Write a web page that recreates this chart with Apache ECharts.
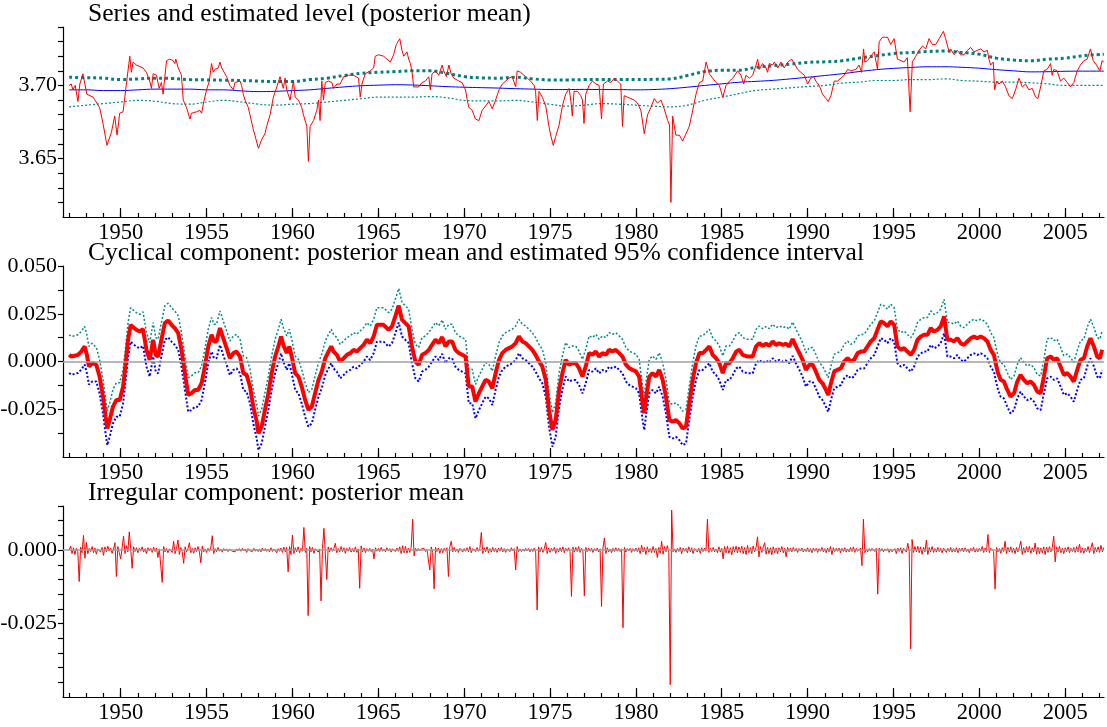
<!DOCTYPE html>
<html>
<head>
<meta charset="utf-8">
<title>Series, cycle and irregular components</title>
<script src="https://cdn.jsdelivr.net/npm/echarts@6/dist/echarts.min.js"></script>
<style>
  html, body { margin: 0; padding: 0; background: #fff; }
  #chart { width: 1107px; height: 727px; }
</style>
</head>
<body>
<div id="chart"></div>
<script>
// ---- axis ticks / labels ----
const yearTicks = [1947, 1948, 1949, 1950, 1951, 1952, 1953, 1954, 1955, 1956, 1957, 1958, 1959, 1960,
  1961, 1962, 1963, 1964, 1965, 1966, 1967, 1968, 1969, 1970, 1971, 1972, 1973, 1974, 1975, 1976,
  1977, 1978, 1979, 1980, 1981, 1982, 1983, 1984, 1985, 1986, 1987, 1988, 1989, 1990, 1991, 1992,
  1993, 1994, 1995, 1996, 1997, 1998, 1999, 2000, 2001, 2002, 2003, 2004, 2005, 2006, 2007];
const labelYears = [1950, 1955, 1960, 1965, 1970, 1975, 1980, 1985, 1990, 1995, 2000, 2005];
const levelTicks = [3.62, 3.63, 3.64, 3.65, 3.66, 3.67, 3.68, 3.69, 3.70, 3.71, 3.72, 3.73, 3.74];
const levelLabels = [3.65, 3.70];
const cycleTicks = [-0.0375, -0.025, -0.0125, 0, 0.0125, 0.025, 0.0375, 0.05];
const cycleLabels = [-0.025, 0, 0.025, 0.05];
const irrTicks = [-0.045, -0.04, -0.035, -0.03, -0.025, -0.02, -0.015, -0.01, -0.005, 0, 0.005, 0.01, 0.015];
const irrLabels = [-0.025, 0];

// ---- panel 1: observed series [year, value] ----
const observed = [
  [1947.00,3.700],[1947.12,3.701],[1947.22,3.697],[1947.35,3.700],[1947.51,3.689],[1947.62,3.701],[1947.80,3.708],
  [1948.03,3.694],[1948.39,3.692],[1948.77,3.685],[1948.97,3.674],[1949.20,3.659],[1949.46,3.668],[1949.65,3.679],
  [1949.79,3.666],[1949.94,3.681],[1950.14,3.682],[1950.33,3.701],[1950.53,3.720],[1950.62,3.709],[1950.72,3.716],
  [1950.91,3.714],[1951.30,3.712],[1951.50,3.709],[1951.69,3.703],[1951.79,3.698],[1951.89,3.708],[1951.98,3.709],
  [1952.08,3.707],[1952.24,3.698],[1952.37,3.702],[1952.47,3.694],[1952.57,3.706],[1952.67,3.717],[1952.86,3.718],
  [1953.05,3.717],[1953.15,3.715],[1953.21,3.718],[1953.35,3.712],[1953.54,3.707],[1953.64,3.690],[1953.83,3.685],
  [1954.03,3.677],[1954.12,3.681],[1954.42,3.682],[1954.61,3.683],[1954.71,3.681],[1954.84,3.689],[1955.00,3.697],
  [1955.16,3.703],[1955.29,3.715],[1955.39,3.709],[1955.49,3.711],[1955.68,3.712],[1955.78,3.716],[1955.88,3.712],
  [1956.17,3.706],[1956.36,3.700],[1956.56,3.697],[1956.65,3.702],[1956.95,3.703],[1957.04,3.700],[1957.14,3.694],
  [1957.24,3.690],[1957.43,3.685],[1957.72,3.670],[1958.02,3.657],[1958.21,3.663],[1958.40,3.667],[1958.50,3.672],
  [1958.70,3.680],[1958.89,3.692],[1959.09,3.699],[1959.28,3.706],[1959.47,3.698],[1959.57,3.705],[1959.67,3.697],
  [1959.86,3.690],[1960.06,3.703],[1960.16,3.692],[1960.35,3.690],[1960.54,3.685],[1960.64,3.680],[1960.74,3.681],
  [1960.84,3.672],[1960.93,3.648],[1961.03,3.672],[1961.23,3.676],[1961.42,3.683],[1961.52,3.690],[1961.61,3.676],
  [1961.71,3.703],[1961.81,3.690],[1961.91,3.702],[1962.10,3.703],[1962.30,3.702],[1962.39,3.698],[1962.59,3.701],
  [1962.78,3.701],[1962.98,3.706],[1963.27,3.707],[1963.56,3.707],[1963.85,3.705],[1963.95,3.692],[1964.05,3.701],
  [1964.24,3.708],[1964.53,3.710],[1964.73,3.712],[1964.82,3.720],[1965.02,3.721],[1965.31,3.720],[1965.51,3.718],
  [1965.70,3.716],[1965.89,3.721],[1966.05,3.728],[1966.25,3.732],[1966.38,3.724],[1966.48,3.720],[1966.67,3.723],
  [1966.77,3.718],[1966.87,3.715],[1966.97,3.709],[1967.06,3.699],[1967.16,3.699],[1967.35,3.699],[1967.55,3.702],
  [1967.74,3.703],[1967.94,3.706],[1968.03,3.697],[1968.13,3.708],[1968.33,3.710],[1968.52,3.707],[1968.72,3.714],
  [1968.81,3.710],[1968.97,3.706],[1969.11,3.714],[1969.24,3.708],[1969.40,3.705],[1969.69,3.703],[1969.88,3.702],
  [1970.08,3.697],[1970.18,3.690],[1970.27,3.685],[1970.47,3.683],[1970.66,3.677],[1970.86,3.676],[1971.05,3.683],
  [1971.25,3.686],[1971.44,3.689],[1971.64,3.684],[1971.83,3.690],[1972.03,3.697],[1972.22,3.701],[1972.42,3.703],
  [1972.61,3.705],[1972.80,3.706],[1973.00,3.699],[1973.09,3.710],[1973.29,3.709],[1973.48,3.707],[1973.68,3.705],
  [1973.87,3.703],[1974.07,3.700],[1974.16,3.696],[1974.26,3.676],[1974.36,3.696],[1974.55,3.692],[1974.75,3.686],
  [1974.94,3.672],[1975.04,3.666],[1975.19,3.659],[1975.33,3.665],[1975.53,3.673],[1975.72,3.686],[1975.91,3.694],
  [1976.11,3.698],[1976.21,3.690],[1976.30,3.679],[1976.40,3.696],[1976.60,3.696],[1976.79,3.693],[1976.89,3.690],
  [1976.98,3.674],[1977.08,3.694],[1977.28,3.700],[1977.47,3.703],[1977.67,3.701],[1977.86,3.700],[1978.00,3.677],
  [1978.11,3.701],[1978.35,3.703],[1978.54,3.702],[1978.74,3.705],[1978.93,3.703],[1979.12,3.701],[1979.22,3.672],
  [1979.32,3.693],[1979.51,3.692],[1979.71,3.691],[1979.90,3.690],[1980.09,3.688],[1980.29,3.683],[1980.49,3.667],
  [1980.68,3.680],[1980.88,3.685],[1981.07,3.691],[1981.26,3.688],[1981.46,3.690],[1981.65,3.684],[1981.85,3.676],
  [1981.96,3.673],[1982.04,3.620],[1982.14,3.679],[1982.33,3.666],[1982.53,3.666],[1982.72,3.662],[1982.92,3.667],
  [1983.11,3.672],[1983.31,3.683],[1983.50,3.694],[1983.70,3.702],[1983.89,3.703],[1984.09,3.716],[1984.28,3.708],
  [1984.47,3.705],[1984.67,3.702],[1984.86,3.700],[1985.06,3.692],[1985.25,3.700],[1985.45,3.703],[1985.64,3.705],
  [1985.93,3.710],[1986.12,3.707],[1986.28,3.701],[1986.41,3.707],[1986.61,3.705],[1986.80,3.707],[1987.00,3.714],
  [1987.09,3.718],[1987.19,3.711],[1987.38,3.715],[1987.58,3.712],[1987.67,3.709],[1987.77,3.715],[1987.97,3.714],
  [1988.06,3.716],[1988.26,3.712],[1988.45,3.716],[1988.64,3.712],[1988.84,3.716],[1989.07,3.718],[1989.22,3.715],
  [1989.42,3.711],[1989.61,3.709],[1989.81,3.707],[1990.00,3.701],[1990.19,3.705],[1990.35,3.706],[1990.48,3.703],
  [1990.68,3.700],[1990.87,3.694],[1991.07,3.691],[1991.20,3.689],[1991.36,3.693],[1991.55,3.703],[1991.74,3.703],
  [1991.94,3.705],[1992.13,3.707],[1992.33,3.711],[1992.52,3.710],[1992.81,3.711],[1993.00,3.714],[1993.14,3.709],
  [1993.26,3.725],[1993.33,3.716],[1993.49,3.717],[1993.68,3.720],[1993.88,3.723],[1994.07,3.711],[1994.17,3.730],
  [1994.36,3.733],[1994.65,3.733],[1994.84,3.728],[1995.04,3.732],[1995.23,3.718],[1995.43,3.717],[1995.62,3.716],
  [1995.81,3.719],[1995.97,3.682],[1996.10,3.716],[1996.30,3.720],[1996.49,3.724],[1996.69,3.727],[1996.88,3.725],
  [1997.07,3.732],[1997.27,3.728],[1997.46,3.728],[1997.66,3.732],[1997.91,3.737],[1998.04,3.732],[1998.24,3.723],
  [1998.33,3.725],[1998.53,3.721],[1998.72,3.724],[1998.91,3.721],[1999.11,3.721],[1999.30,3.724],[1999.50,3.726],
  [1999.69,3.723],[1999.88,3.724],[2000.08,3.725],[2000.27,3.723],[2000.47,3.724],[2000.56,3.718],[2000.66,3.714],
  [2000.81,3.716],[2000.89,3.697],[2001.01,3.703],[2001.14,3.701],[2001.34,3.703],[2001.53,3.699],[2001.72,3.693],
  [2001.92,3.691],[2002.11,3.697],[2002.31,3.705],[2002.50,3.699],[2002.69,3.701],[2002.89,3.697],[2003.08,3.698],
  [2003.28,3.692],[2003.41,3.691],[2003.57,3.699],[2003.76,3.710],[2003.95,3.711],[2004.15,3.715],[2004.24,3.707],
  [2004.34,3.711],[2004.53,3.710],[2004.73,3.703],[2004.92,3.705],[2005.12,3.702],[2005.31,3.699],[2005.50,3.702],
  [2005.70,3.710],[2005.89,3.714],[2006.09,3.717],[2006.28,3.718],[2006.47,3.725],[2006.63,3.717],[2006.82,3.714],
  [2007.02,3.710],[2007.15,3.717],[2007.25,3.716]
];

// ---- panel 1: estimated level and its band (yearly) ----
const levelYears = [1947, 1948, 1949, 1950, 1951, 1952, 1953, 1954, 1955, 1956, 1957, 1958, 1959, 1960,
  1961, 1962, 1963, 1964, 1965, 1966, 1967, 1968, 1969, 1970, 1971, 1972, 1973, 1974, 1975, 1976,
  1977, 1978, 1979, 1980, 1981, 1982, 1983, 1984, 1985, 1986, 1987, 1988, 1989, 1990, 1991, 1992,
  1993, 1994, 1995, 1996, 1997, 1998, 1999, 2000, 2001, 2002, 2003, 2004, 2005, 2006, 2007.25];
const levelMean = [3.697, 3.697, 3.6965, 3.6965, 3.697, 3.6975, 3.6975, 3.6975, 3.697, 3.697, 3.6963, 3.6958,
  3.696, 3.6965, 3.697, 3.698, 3.699, 3.6998, 3.7002, 3.7005, 3.7003, 3.6998, 3.6992, 3.6988, 3.6985,
  3.6982, 3.6978, 3.6975, 3.6972, 3.6972, 3.6973, 3.6972, 3.6972, 3.697, 3.6972, 3.6978, 3.6988, 3.700,
  3.7011, 3.7022, 3.7028, 3.7035, 3.7045, 3.7056, 3.7068, 3.708, 3.7095, 3.7108, 3.7117, 3.7123, 3.7128,
  3.7128, 3.7124, 3.7118, 3.7108, 3.71, 3.7093, 3.7094, 3.7097, 3.7098, 3.7098];
const levelUpper = [3.7056, 3.7053, 3.705, 3.704, 3.7045, 3.705, 3.7048, 3.704, 3.7038, 3.7036, 3.7034, 3.703,
  3.7027, 3.7027, 3.704, 3.705, 3.7068, 3.7083, 3.709, 3.7095, 3.710, 3.710, 3.7083, 3.7061, 3.7052,
  3.705, 3.7056, 3.7045, 3.7038, 3.7038, 3.704, 3.704, 3.704, 3.704, 3.7042, 3.7045, 3.7068, 3.7095,
  3.7104, 3.7104, 3.7124, 3.7135, 3.7146, 3.7158, 3.7162, 3.7169, 3.7187, 3.7203, 3.7218, 3.7225, 3.7232,
  3.7236, 3.7225, 3.7214, 3.7187, 3.7174, 3.7169, 3.718, 3.7187, 3.7203, 3.7214];
const levelLower = [3.6854, 3.6865, 3.6876, 3.6887, 3.6898, 3.6892, 3.6876, 3.6872, 3.6887, 3.6898, 3.6887, 3.6872,
  3.6865, 3.6872, 3.6876, 3.6887, 3.6898, 3.6909, 3.692, 3.692, 3.692, 3.6924, 3.6916, 3.6898, 3.6894,
  3.6894, 3.6898, 3.6887, 3.6872, 3.6858, 3.6865, 3.6876, 3.6872, 3.6865, 3.6858, 3.6854, 3.6865, 3.6898,
  3.692, 3.6944, 3.6966, 3.6975, 3.6984, 3.6993, 3.700, 3.7016, 3.7023, 3.7034, 3.7034, 3.704, 3.704,
  3.7045, 3.7034, 3.7029, 3.7023, 3.7023, 3.7018, 3.7011, 3.700, 3.700, 3.700];

// ---- panel 2: cyclical component with 95% band ----
const cycYears = [
  1947.00, 1947.12, 1947.32, 1947.51, 1947.70, 1947.90, 1948.03, 1948.15, 1948.35, 1948.58,
  1948.77, 1948.97, 1949.12, 1949.22, 1949.36, 1949.55, 1949.75, 1949.94, 1950.14, 1950.29,
  1950.43, 1950.58, 1950.72, 1950.91, 1951.11, 1951.30, 1951.50, 1951.69, 1951.89, 1952.04,
  1952.18, 1952.37, 1952.57, 1952.76, 1952.96, 1953.15, 1953.35, 1953.54, 1953.74, 1953.93,
  1954.12, 1954.32, 1954.51, 1954.71, 1954.90, 1955.10, 1955.29, 1955.43, 1955.58, 1955.78,
  1955.97, 1956.17, 1956.36, 1956.56, 1956.75, 1956.95, 1957.14, 1957.33, 1957.53, 1957.72,
  1957.92, 1958.02, 1958.21, 1958.40, 1958.60, 1958.79, 1958.99, 1959.18, 1959.34, 1959.47,
  1959.67, 1959.82, 1959.96, 1960.16, 1960.35, 1960.54, 1960.74, 1960.93, 1961.13, 1961.32,
  1961.52, 1961.71, 1961.91, 1962.10, 1962.26, 1962.39, 1962.59, 1962.78, 1962.98, 1963.17,
  1963.37, 1963.56, 1963.75, 1963.95, 1964.14, 1964.34, 1964.53, 1964.73, 1964.92, 1965.02,
  1965.31, 1965.60, 1965.80, 1965.99, 1966.19, 1966.38, 1966.58, 1966.77, 1966.96, 1967.16,
  1967.35, 1967.55, 1967.74, 1967.94, 1968.13, 1968.33, 1968.52, 1968.72, 1968.91, 1969.11,
  1969.30, 1969.49, 1969.69, 1969.88, 1970.08, 1970.27, 1970.47, 1970.66, 1970.86, 1971.05,
  1971.25, 1971.44, 1971.64, 1971.83, 1972.03, 1972.22, 1972.42, 1972.61, 1972.80, 1973.00,
  1973.19, 1973.39, 1973.58, 1973.77, 1973.97, 1974.16, 1974.36, 1974.55, 1974.75, 1974.94,
  1975.14, 1975.33, 1975.53, 1975.72, 1975.91, 1976.11, 1976.30, 1976.50, 1976.69, 1976.89,
  1977.08, 1977.28, 1977.47, 1977.67, 1977.86, 1978.05, 1978.25, 1978.44, 1978.64, 1978.83,
  1979.03, 1979.22, 1979.42, 1979.61, 1979.81, 1980.00, 1980.19, 1980.39, 1980.49, 1980.58,
  1980.78, 1980.97, 1981.17, 1981.36, 1981.56, 1981.75, 1981.95, 1982.14, 1982.33, 1982.53,
  1982.72, 1982.92, 1983.11, 1983.31, 1983.50, 1983.70, 1983.89, 1984.09, 1984.28, 1984.47,
  1984.67, 1984.86, 1985.06, 1985.25, 1985.45, 1985.64, 1985.84, 1986.03, 1986.22, 1986.51,
  1986.80, 1987.00, 1987.19, 1987.38, 1987.58, 1987.77, 1987.97, 1988.16, 1988.35, 1988.55,
  1988.74, 1988.93, 1989.13, 1989.32, 1989.52, 1989.71, 1989.90, 1990.10, 1990.29, 1990.48,
  1990.68, 1990.87, 1991.07, 1991.20, 1991.36, 1991.55, 1991.74, 1991.94, 1992.13, 1992.33,
  1992.52, 1992.71, 1992.91, 1993.10, 1993.29, 1993.49, 1993.68, 1993.88, 1994.07, 1994.26,
  1994.46, 1994.65, 1994.84, 1995.04, 1995.23, 1995.43, 1995.62, 1995.81, 1996.01, 1996.20,
  1996.40, 1996.59, 1996.78, 1996.98, 1997.17, 1997.36, 1997.56, 1997.75, 1997.95, 1998.14,
  1998.33, 1998.53, 1998.72, 1998.91, 1999.11, 1999.30, 1999.50, 1999.69, 1999.88, 2000.08,
  2000.27, 2000.47, 2000.66, 2000.85, 2000.95, 2001.09, 2001.24, 2001.43, 2001.63, 2001.82,
  2002.02, 2002.21, 2002.40, 2002.60, 2002.79, 2002.98, 2003.18, 2003.37, 2003.57, 2003.76,
  2003.95, 2004.15, 2004.34, 2004.53, 2004.73, 2004.92, 2005.12, 2005.31, 2005.50, 2005.70,
  2005.89, 2006.09, 2006.28, 2006.47, 2006.67, 2006.86, 2007.02, 2007.15
];
const cycMean = [
  .0035, .0026, .003, .0035, .0052, .0079, .0035, -.0026, -.0009, -.0017,
  -.0079, -.0184, -.0288, -.035, -.0306, -.0236, -.0201, -.0201, -.0131, -.0009,
  .0114, .0192, .018, .0166, .0157, .017, .0061, .0009, .0114, .0035,
  .0026, .0114, .0201, .0215, .0192, .0175, .0149, .0061, -.0061, -.0175,
  -.0166, -.0149, -.0149, -.0114, -.0026, .0079, .014, .0105, .0105, .0175,
  .0122, .007, .0017, .0044, .0052, .0026, -.0061, -.007, -.0131, -.0236,
  -.0315, -.0376, -.0341, -.0253, -.0166, -.0061, .0026, .0079, .0131, .0087,
  .0044, .0079, .0026, -.0061, -.0079, -.0131, -.0201, -.0253, -.0236, -.0166,
  -.0096, -.0052, .0017, .0052, .0079, .0052, .0035, 0, .0017, .0035,
  .0044, .0061, .0052, .007, .0087, .0114, .0096, .0131, .0192, .0201,
  .0192, .0166, .0184, .0236, .0292, .0219, .0201, .0184, .0079, 0,
  -.0017, .0035, .0044, .0061, .0087, .0114, .0096, .0128, .0079, .0105,
  .0105, .0061, .0044, .0035, .0026, -.0131, -.0131, -.021, -.0166, -.0131,
  -.0096, -.0105, -.014, -.0061, .0009, .0044, .0061, .007, .0079, .0096,
  .0131, .0105, .0096, .0079, .0061, .0035, 0, -.0026, -.0096, -.0253,
  -.0358, -.0306, -.0149, -.0061, .0009, -.0017, -.0009, -.0009, -.0035, -.0079,
  -.0026, .0044, .0035, .0052, .0026, .0044, .0035, .0061, .0052, .0061,
  .0044, .0026, -.0017, -.0035, -.0044, -.0052, -.0079, -.0219, -.0271, -.0201,
  -.0079, -.0061, -.0079, -.0044, -.0096, -.0184, -.0306, -.0315, -.0306, -.0323,
  -.035, -.0341, -.0219, -.0096, -.0009, .0044, .0044, .0061, .0079, .0035,
  .0017, -.0009, -.0061, -.0009, -.0009, .0017, .0052, .0061, .0035, .0026,
  .0026, .0079, .0096, .0082, .0093, .0082, .0105, .0087, .0096, .0087,
  .0093, .0079, .0117, .0079, .0044, .0009, -.0044, -.0017, -.0017, -.0052,
  -.0096, -.0114, -.0149, -.0175, -.0114, -.0052, -.0044, -.0035, 0, .0017,
  0, .0009, .0044, .0052, .0052, .0079, .0105, .0122, .0166, .021,
  .0201, .0184, .021, .0192, .0079, .0061, .007, .0052, .0035, .0061,
  .0114, .0131, .014, .014, .0175, .0157, .0166, .0184, .0236, .0114,
  .0114, .0105, .0122, .0096, .0087, .0105, .0122, .0131, .0122, .0131,
  .0122, .0105, .0061, .0035, -.0009, -.0061, -.0096, -.0105, -.0149, -.0184,
  -.0166, -.0105, -.007, -.0096, -.0114, -.0105, -.0122, -.0157, -.0166, -.0079,
  .0017, .0026, .0009, .0017, -.0026, -.007, -.0061, -.0079, -.0105, -.0044,
  .0009, .0017, .0079, .0122, .0079, .0026, .0017, .0061
];
const cycUpper = [
  .014, .0131, .0135, .014, .0157, .0184, .014, .0079, .0096, .0073,
  .0011, -.0094, -.0198, -.026, -.0216, -.0146, -.0111, -.0111, -.0041, .0081,
  .0204, .0282, .027, .0256, .0247, .026, .0151, .0099, .0204, .0125,
  .0116, .0204, .0291, .0305, .0282, .0265, .0239, .0151, .0029, -.0085,
  -.0076, -.0059, -.0059, -.0024, .0064, .0169, .023, .0195, .0195, .0265,
  .0212, .016, .0107, .0134, .0142, .0116, .0029, .002, -.0041, -.0146,
  -.0225, -.0286, -.0251, -.0163, -.0076, .0029, .0116, .0169, .0221, .0177,
  .0134, .0169, .0116, .0029, .0011, -.0041, -.0111, -.0163, -.0146, -.0076,
  -.0006, .0038, .0107, .0142, .0169, .0142, .0125, .009, .0107, .0125,
  .0134, .0151, .0142, .016, .0177, .0204, .0186, .0221, .0282, .0291,
  .0282, .0256, .0274, .0326, .0382, .0309, .0291, .0274, .0169, .009,
  .0073, .0125, .0134, .0151, .0177, .0204, .0186, .0218, .0169, .0195,
  .0195, .0151, .0134, .0125, .0116, -.0041, -.0041, -.012, -.0076, -.0041,
  -.0006, -.0015, -.005, .0029, .0099, .0134, .0151, .016, .0169, .0186,
  .0221, .0195, .0186, .0169, .0151, .0125, .009, .0064, -.0006, -.0163,
  -.0268, -.0216, -.0059, .0029, .0099, .0073, .0081, .0081, .0055, .0011,
  .0064, .0134, .0125, .0142, .0116, .0134, .0125, .0151, .0142, .0151,
  .0134, .0116, .0073, .0055, .0046, .0038, .0011, -.0129, -.0181, -.0111,
  .0011, .0029, .0011, .0046, -.0006, -.0094, -.0216, -.0225, -.0216, -.0233,
  -.026, -.0251, -.0129, -.0006, .0081, .0134, .0134, .0151, .0169, .0125,
  .0107, .0081, .0029, .0081, .0081, .0107, .0142, .0151, .0125, .0116,
  .0116, .0169, .0186, .0172, .0183, .0172, .0195, .0177, .0186, .0177,
  .0183, .0169, .0207, .0169, .0134, .0099, .0046, .0073, .0073, .0038,
  -.0006, -.0024, -.0059, -.0085, -.0024, .0038, .0046, .0055, .009, .0107,
  .009, .0099, .0134, .0142, .0142, .0169, .0195, .0212, .0256, .03,
  .0291, .0274, .03, .0282, .0169, .0151, .016, .0142, .0125, .0151,
  .0204, .0221, .023, .023, .0265, .0247, .0256, .0274, .0326, .0204,
  .0204, .0195, .0212, .0186, .0177, .0195, .0212, .0221, .0212, .0221,
  .0212, .0195, .0151, .0125, .0081, .0029, -.0006, -.0015, -.0059, -.0094,
  -.0076, -.0015, .002, -.0006, -.0024, -.0015, -.0032, -.0067, -.0076, .0011,
  .0117, .0126, .0109, .0117, .0074, .003, .0039, .0021, -.0005, .0056,
  .0109, .0117, .0179, .0222, .0179, .0126, .0117, .0161
];
const cycLower = [
  -.006, -.0069, -.0065, -.006, -.0043, -.0016, -.006, -.0121, -.0104, -.0105,
  -.0167, -.0272, -.0376, -.0438, -.0394, -.0324, -.0289, -.0289, -.0219, -.0097,
  .0026, .0104, .0092, .0078, .0069, .0082, -.0027, -.0079, .0026, -.0053,
  -.0062, .0026, .0113, .0127, .0104, .0087, .0061, -.0027, -.0149, -.0263,
  -.0254, -.0237, -.0237, -.0202, -.0114, -.0009, .0052, .0017, .0017, .0087,
  .0034, -.0018, -.0071, -.0044, -.0036, -.0062, -.0149, -.0158, -.0219, -.0324,
  -.0403, -.0464, -.0429, -.0341, -.0254, -.0149, -.0062, -.0009, .0043, -.0001,
  -.0044, -.0009, -.0062, -.0149, -.0167, -.0219, -.0289, -.0341, -.0324, -.0254,
  -.0184, -.014, -.0071, -.0036, -.0009, -.0036, -.0053, -.0088, -.0071, -.0053,
  -.0044, -.0027, -.0036, -.0018, -.0001, .0026, .0008, .0043, .0104, .0113,
  .0104, .0078, .0096, .0148, .0204, .0131, .0113, .0096, -.0009, -.0088,
  -.0105, -.0053, -.0044, -.0027, -.0001, .0026, .0008, .004, -.0009, .0017,
  .0017, -.0027, -.0044, -.0053, -.0062, -.0219, -.0219, -.0298, -.0254, -.0219,
  -.0184, -.0193, -.0228, -.0149, -.0079, -.0044, -.0027, -.0018, -.0009, .0008,
  .0043, .0017, .0008, -.0009, -.0027, -.0053, -.0088, -.0114, -.0184, -.0341,
  -.0446, -.0394, -.0237, -.0149, -.0079, -.0105, -.0097, -.0097, -.0123, -.0167,
  -.0114, -.0044, -.0053, -.0036, -.0062, -.0044, -.0053, -.0027, -.0036, -.0027,
  -.0044, -.0062, -.0105, -.0123, -.0132, -.014, -.0167, -.0307, -.0359, -.0289,
  -.0167, -.0149, -.0167, -.0132, -.0184, -.0272, -.0394, -.0403, -.0394, -.0411,
  -.0438, -.0429, -.0307, -.0184, -.0097, -.0044, -.0044, -.0027, -.0009, -.0053,
  -.0071, -.0097, -.0149, -.0097, -.0097, -.0071, -.0036, -.0027, -.0053, -.0062,
  -.0062, -.0009, .0008, -.0006, .0005, -.0006, .0017, -.0001, .0008, -.0001,
  .0005, -.0009, .0029, -.0009, -.0044, -.0079, -.0132, -.0105, -.0105, -.014,
  -.0184, -.0202, -.0237, -.0263, -.0202, -.014, -.0132, -.0123, -.0088, -.0071,
  -.0088, -.0079, -.0044, -.0036, -.0036, -.0009, .0017, .0034, .0078, .0122,
  .0113, .0096, .0122, .0104, -.0009, -.0027, -.0018, -.0036, -.0053, -.0027,
  .0026, .0043, .0052, .0052, .0087, .0069, .0078, .0096, .0148, .0026,
  .0026, .0017, .0034, .0008, -.0001, .0017, .0034, .0043, .0034, .0043,
  .0034, .0017, -.0027, -.0053, -.0097, -.0149, -.0184, -.0193, -.0237, -.0272,
  -.0254, -.0193, -.0158, -.0184, -.0202, -.0193, -.021, -.0245, -.0254, -.0167,
  -.0088, -.0079, -.0096, -.0088, -.0131, -.0175, -.0166, -.0184, -.021, -.0149,
  -.0096, -.0088, -.0026, .0017, -.0026, -.0079, -.0088, -.0044
];

// ---- panel 3: irregular component, monthly from Jan 1947 ----
const IRR_START = 1947.0;
const irregular = [
  0, .0014, -.0012, .0008, -.0015, .0006, -.0004, -.0107, .001, -.0009, .005, -.0028,
  .0026, -.0012, .0006, -.0005, .0012, -.0009, .0007, -.0014, .0004, .001, -.0007, .0009,
  -.0018, .0011, -.0006, .0013, -.0004, .0006, -.0011, .0003, .0025, -.009, .0012, -.0008,
  -.003, .0009, .0047, -.0012, .0015, -.0006, .0062, .0004, -.0062, .0011, -.0005, .0008,
  -.0009, .0006, -.0004, .0011, -.0007, .0005, -.0012, .0008, -.0003, .0006, -.0008, .001,
  -.0005, .0007, -.0025, .0004, .0009, -.011, .0012, -.0006, .0005, -.0009, .0004, .0006,
  -.0008, .003, -.0012, .0005, .0034, -.0015, .0009, -.0006, -.0045, .0011, -.0007, .0005,
  .0025, -.0009, .0006, -.0011, .0008, -.0005, .0012, -.0007, -.0043, .0014, -.0006, .0004,
  -.0008, .0006, -.0004, .001, .0049, -.0012, .0005, -.0006, .0009, -.0004, .0003, -.0007,
  .0005, -.0003, .0004, -.0005, .0003, .0006, -.0004, .0002, -.0006, .0004, -.0003, .0005,
  -.0004, .0006, -.0003, .0004, -.0008, .0005, -.0002, .0004, -.0005, .0006, -.0004, .0003,
  -.0005, .0004, -.0006, .0007, -.0003, .0005, -.0004, .0003, -.0006, .0008, -.0005, .0004,
  .0006, -.0009, .0005, -.0004, .0007, -.0008, .001, -.0006, .0009, -.0074, .0012, -.0015,
  .0051, -.0012, .0008, -.0006, .0011, -.0009, .0006, -.0004, .0077, -.0008, .0006, -.0223,
  .0012, -.0006, .0009, -.0011, .0005, .0008, -.0007, .0004, -.0173, .0006, .0074, -.0012,
  -.01, .0011, -.0006, .0008, -.0004, .0006, .0023, -.0009, .0005, -.0007, .0012, -.0005,
  .0008, -.0011, .0006, -.0004, .0009, -.0007, .0005, -.0006, .0011, -.0008, .0004, -.013,
  .0014, -.0006, .0007, -.0009, .0005, -.0004, .0006, -.0005, .0003, -.003, .0008, -.0004,
  .0006, -.0005, .0009, -.0004, .0003, -.0006, .0008, -.0003, .0005, -.0007, .0004, .0002,
  -.0005, .0007, -.0004, .0011, -.0012, .0015, -.0009, .0013, -.001, .0006, -.0008, .0009,
  .0105, -.002, .0006, -.0004, .0005, -.0003, .0004, -.0002, .0006, -.0005, .0003, .0004,
  -.0068, .0011, -.0008, -.0132, .0009, -.0005, .0007, -.0011, .0005, -.0009, .0006, -.0004,
  .0008, -.009, .0012, .003, -.0006, .0009, -.0005, .0004, -.0008, .0006, .0011, -.0007,
  .0005, -.0004, .0008, -.0006, .0012, -.0009, .0005, .0007, -.0005, .0009, -.0004, .0006,
  .006, -.0012, .0008, -.0006, .0011, -.0009, .0005, -.0007, .0009, -.0005, .0006, -.0008,
  .0007, -.0004, .0009, -.0006, .0005, -.0008, .0004, .0006, -.0005, .0008, -.0003, .0005,
  -.0068, .0012, -.0006, .0004, -.0005, .0003, -.0004, .0006, -.0003, .0005, -.0006, .0004,
  -.0005, .0007, -.0009, -.0204, .0011, -.0006, .0009, -.0008, .0005, .0026, -.0012, .0007,
  -.0008, .0006, -.0004, .0009, -.0011, .0005, -.0007, .0008, -.0005, .0011, -.0009, .0006,
  -.0004, .0008, -.0006, -.0158, .001, -.0007, .0009, -.0005, .0012, -.0008, .0006, -.0004,
  -.0156, .0009, -.0005, .0007, -.0004, .0006, -.0008, .0005, -.0003, .0007, -.0006, .0004,
  -.0192, .0007, .0041, -.0012, .0008, -.0006, .0004, -.0009, .0006, -.0005, .0008, -.0004,
  .0006, -.0005, .0004, -.0264, .0009, -.0007, .0005, -.0003, .0006, -.0008, .0005, -.0004,
  .0007, -.0005, .0008, -.0012, .0016, -.0006, .0009, -.0015, .0011, -.0007, .0005, -.0009,
  .0012, -.0008, .0006, -.0025, .0009, -.0011, .003, -.0014, .0012, -.0006, .0015, -.0009,
  -.0458, .0136, -.0006, .0004, -.0008, .0006, -.0005, .0009, -.0012, .0007, -.0004, .0006,
  -.0009, .0011, -.0006, .0008, -.0012, .0005, .0009, -.0007, .0006, -.0011, .0008, -.0005,
  .0007, -.0004, .0105, -.0008, .0006, -.0005, .0009, -.0006, .0004, -.0009, .0011, -.0007,
  .0006, -.003, .0012, -.0009, .0014, -.0011, .0008, -.0016, .0012, -.0007, .0013, -.001,
  .0011, -.0008, .0013, -.0012, .0009, -.0015, .0016, -.0009, .0008, -.0012, .0014, -.0006,
  .0009, .0045, -.0023, .0012, -.0008, .0011, .0025, -.0014, .0009, -.0012, .0008, -.0016,
  .0011, -.0009, .0007, -.0013, .0008, -.0006, .0012, -.0009, .0006, -.0023, .0009, -.0005,
  .0007, -.0006, .0009, -.0004, .0006, -.0008, .0005, -.0003, .0007, -.0006, .0004, -.0005,
  .0008, -.0006, .0005, -.0009, .0007, -.0004, .0006, -.0008, .0005, -.0004, .0009, -.0006,
  .0005, -.0009, .0007, -.0006, .0012, -.0015, .0008, -.0005, .0006, -.0004, .0007, -.0009,
  .0006, -.0005, .0008, -.0007, .0004, -.0006, .0009, -.0005, .0011, -.0008, .0006, -.0004,
  -.0005, .0007, -.0053, .0105, -.0009, .0004, -.0006, .0005, -.0004, .0006, .0003, -.0005,
  .0006, -.015, .0007, -.0004, .0005, -.0006, .0004, -.0003, .0005, -.0008, .0004, -.0006,
  -.0009, .0005, -.0012, .0007, -.0005, .0008, -.0011, .0006, .0004, -.0007, .0023, -.0004,
  -.0336, .0036, -.0008, .0012, -.0006, .0013, -.0009, .0011, -.0014, .0009, -.0006, .0034,
  -.0015, .0009, -.0006, .0012, -.0008, .0005, -.0007, .0009, -.0005, .0006, -.0009, .0007,
  .0011, -.0008, .0006, -.0005, .0009, -.0007, .0005, -.0006, .0008, -.0009, .0006, -.0004,
  .0007, -.0006, .0008, -.0005, .0004, -.0009, .0006, -.0004, .0009, -.0007, .0005, -.0006,
  .0006, -.0004, .0012, -.0008, .0007, -.0006, .0053, -.0009, .0006, .0008, -.0005, -.0133,
  .0009, -.0006, .0005, -.0011, .0008, -.0005, .003, -.0012, .0009, -.0007, .0011, -.0008,
  .0006, -.0012, .0009, -.0006, .0011, .003, -.0015, .0008, -.0009, .0012, -.0007, .0013,
  -.0011, .0008, -.0006, .0024, -.0014, .0009, -.0012, .0007, -.0009, .0011, -.0015, .001,
  -.0008, .0012, -.0006, .0009, .0047, -.004, .0011, -.0007, .0013, -.0009, .0006, -.0012,
  .0008, -.0006, .0011, -.0009, .0006, -.0005, .0009, -.0008, .0012, -.0006, .002, -.0009,
  .0007, -.0011, .0006, -.0005, .0012, -.0009, .0008, .0025, -.0012, .0009, -.0006, .0011,
  -.0008, .0016, -.0006, .0009
];

const titles = [
  'Series and estimated level (posterior mean)',
  'Cyclical component: posterior mean and estimated 95% confidence interval',
  'Irregular component: posterior mean'
];

const X_MIN = 1946.64, X_MAX = 2007.26;
const FONT = '"Liberation Serif", "Times New Roman", serif';
const FS = 22;          // tick labels
const TITLE_FS = 25.6;  // panel titles
const RED = '#ff0000', BLUE = '#0000ff', TEAL = '#008080';

// fixed plot rectangles; outerBoundsMode 'none' stops ECharts 6 from shrinking them to fit labels
const grids = [
  { left: 63, top: 27, width: 1041, height: 190, outerBoundsMode: 'none', containLabel: false },
  { left: 63, top: 266, width: 1041, height: 191, outerBoundsMode: 'none', containLabel: false },
  { left: 63, top: 506, width: 1041, height: 191, outerBoundsMode: 'none', containLabel: false }
];

const axisLine = { show: true, onZero: false, lineStyle: { color: '#000', width: 1.2 } };

// two x axes per grid: labelled 5-year ticks + plain yearly ticks
const xAxes = [];
grids.forEach((g, gi) => {
  xAxes.push({
    type: 'value', gridIndex: gi, min: X_MIN, max: X_MAX, position: 'bottom',
    axisLine: axisLine,
    axisTick: { show: true, inside: true, length: 9, customValues: labelYears, lineStyle: { color: '#000', width: 1.2 } },
    axisLabel: { show: true, customValues: labelYears, margin: 5, color: '#000', fontFamily: FONT, fontSize: 22.5,
      formatter: (v) => String(v) },
    splitLine: { show: false }
  });
  xAxes.push({
    type: 'value', gridIndex: gi, min: X_MIN, max: X_MAX, position: 'bottom',
    axisLine: { show: false, onZero: false },
    axisTick: { show: true, inside: true, length: 4, customValues: yearTicks, lineStyle: { color: '#000', width: 1.2 } },
    axisLabel: { show: false },
    splitLine: { show: false }
  });
});

function yAxis(gi, min, max, ticks, labels, digits) {
  return {
    type: 'value', gridIndex: gi, min: min, max: max, position: 'left',
    axisLine: axisLine,
    axisTick: { show: true, inside: false, length: 5, customValues: ticks, lineStyle: { color: '#000', width: 1.2 } },
    axisLabel: { show: true, customValues: labels, margin: 6, color: '#000', fontFamily: FONT, fontSize: FS,
      formatter: (v) => v.toFixed(digits) },
    splitLine: { show: false }
  };
}

const yAxes = [
  yAxis(0, 3.61, 3.74, levelTicks, levelLabels, 2),
  yAxis(1, -0.05, 0.05, cycleTicks, cycleLabels, 3),
  yAxis(2, -0.05, 0.015, irrTicks, irrLabels, 3)
];

function line(gi, data, color, width, dash, z, smooth) {
  return {
    type: 'line', xAxisIndex: gi * 2, yAxisIndex: gi, data: data,
    symbol: 'none', showSymbol: false, smooth: smooth || false, z: z, silent: true,
    lineStyle: { color: color, width: width, type: dash || 'solid' }
  };
}

function zeroLine(gi) {
  return {
    type: 'line', xAxisIndex: gi * 2, yAxisIndex: gi, data: [], z: 1, silent: true,
    markLine: {
      silent: true, symbol: ['none', 'none'], label: { show: false }, animation: false,
      lineStyle: { color: '#a0a0a0', width: 1.5, type: 'solid' },
      data: [{ yAxis: 0 }]
    }
  };
}

const pairs = (xs, ys) => xs.map((x, i) => [x, ys[i]]);
const irrData = irregular.map((v, i) => [IRR_START + i / 12, v]);

const series = [
  // panel 1
  line(0, pairs(levelYears, levelUpper), TEAL, 3, [3, 3], 2, 0.4),
  line(0, pairs(levelYears, levelLower), '#008b8b', 1.2, [2, 2], 2, 0.4),
  line(0, pairs(levelYears, levelMean), BLUE, 1, 'solid', 3, 0.4),
  line(0, observed, RED, 1, 'solid', 4),
  // panel 2
  zeroLine(1),
  line(1, pairs(cycYears, cycUpper), '#008b8b', 1.5, [2, 2], 2),
  line(1, pairs(cycYears, cycLower), BLUE, 2, [2, 2], 2),
  line(1, pairs(cycYears, cycMean), RED, 4, 'solid', 4),
  // panel 3
  zeroLine(2),
  line(2, irrData, RED, 1, 'solid', 4)
];

const chart = echarts.init(document.getElementById('chart'), null, { renderer: 'canvas' });
chart.setOption({
  animation: false,
  backgroundColor: '#fff',
  title: titles.map((t, i) => ({
    text: t, left: 88, top: [1, 240, 480][i], padding: 0,
    textStyle: { fontFamily: FONT, fontSize: TITLE_FS, fontWeight: 'normal', color: '#000' }
  })),
  grid: grids,
  xAxis: xAxes,
  yAxis: yAxes,
  series: series
});
</script>
</body>
</html>
